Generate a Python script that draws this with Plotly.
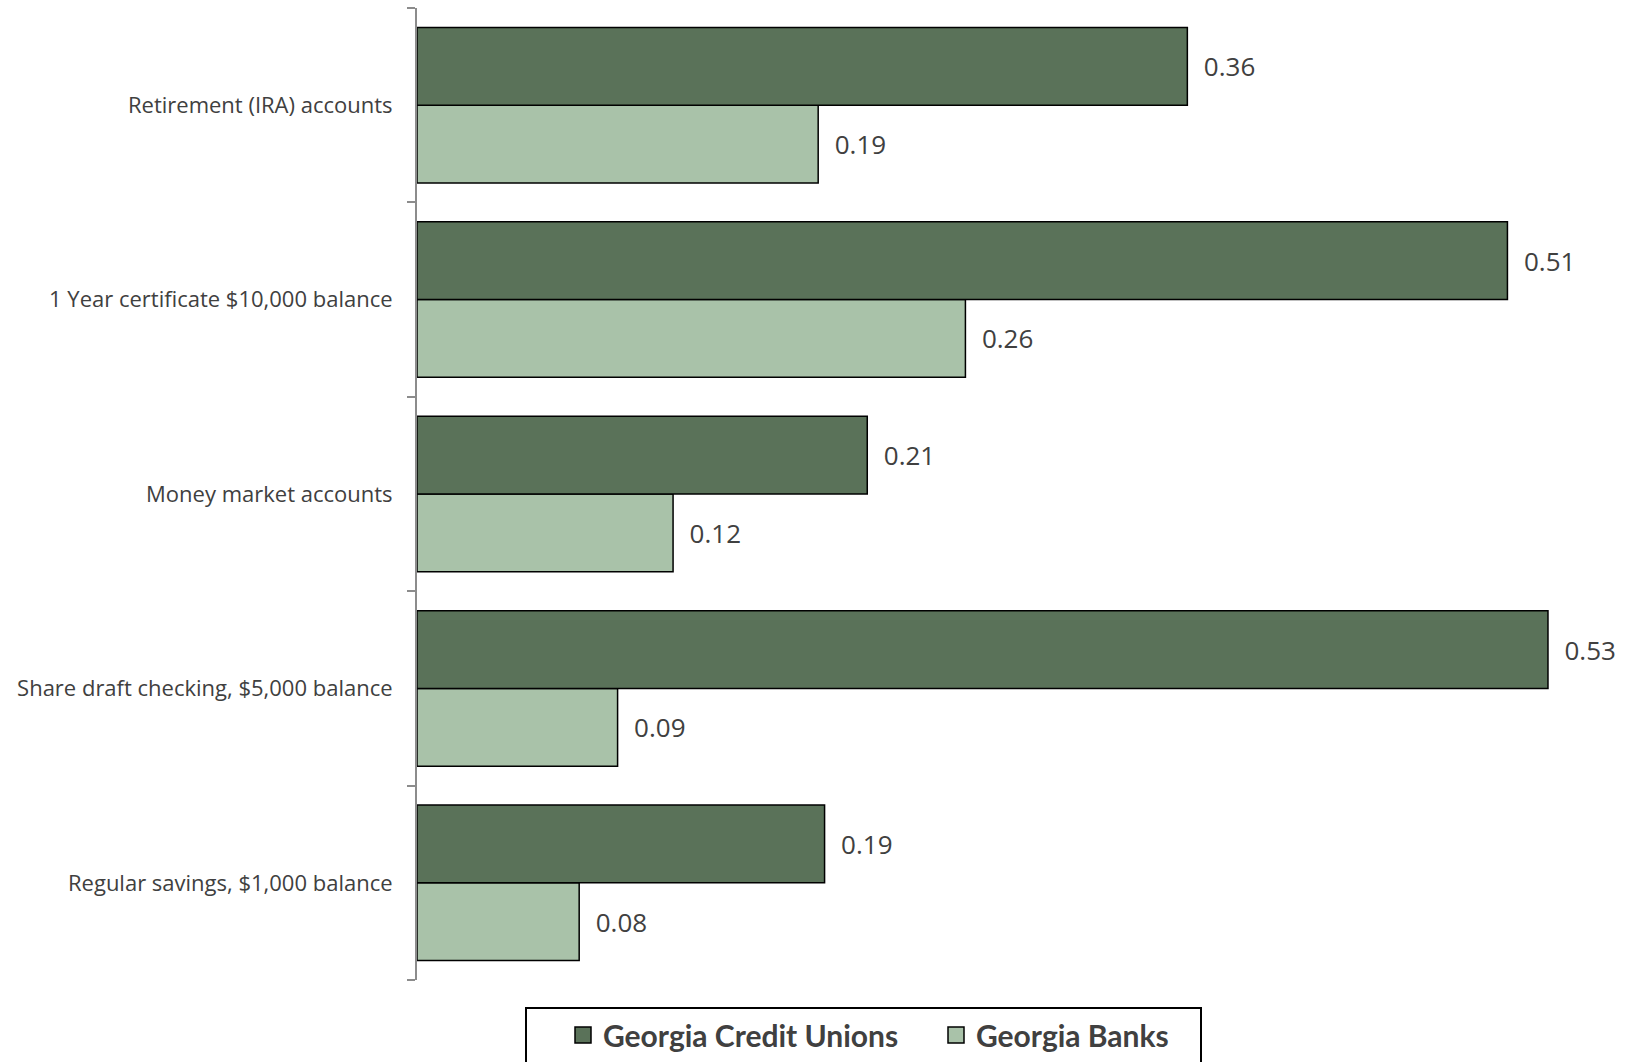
import plotly.graph_objects as go

# Categories listed bottom-to-top (Plotly category axis starts at bottom)
categories = [
    "Regular savings, $1,000 balance",
    "Share draft checking, $5,000 balance",
    "Money market accounts",
    "1 Year certificate $10,000 balance",
    "Retirement (IRA) accounts",
]
credit_unions = [0.191, 0.53, 0.211, 0.511, 0.361]
banks = [0.076, 0.094, 0.12, 0.257, 0.188]
series_names = ["Georgia Credit Unions", "Georgia Banks"]

dark = "#5A7259"
light = "#A9C2A9"
text_col = "#404040"
label_font = dict(family="Open Sans", size=26, color=text_col)

fig = go.Figure()
fig.add_trace(go.Bar(
    name=series_names[1], y=categories, x=banks, orientation="h",
    marker=dict(color=light, line=dict(color="#000000", width=1.5)),
    texttemplate="\u00a0\u00a0%{x:.2f}", textposition="outside", cliponaxis=False,
    textfont=label_font, showlegend=False,
))
fig.add_trace(go.Bar(
    name=series_names[0], y=categories, x=credit_unions, orientation="h",
    marker=dict(color=dark, line=dict(color="#000000", width=1.5)),
    texttemplate="\u00a0\u00a0%{x:.2f}", textposition="outside", cliponaxis=False,
    textfont=label_font, showlegend=False,
))
# legend-only entries (larger square swatches)
for name, col in zip(series_names, [dark, light]):
    fig.add_trace(go.Scatter(
        name=name, x=[None], y=[None], mode="markers",
        marker=dict(symbol="square", size=16, color=col,
                    line=dict(color="#000000", width=1.5)),
        showlegend=True, hoverinfo="skip",
    ))

fig.update_layout(
    width=1625, height=1062,
    margin=dict(l=417, r=13, t=8, b=82),
    paper_bgcolor="white", plot_bgcolor="white",
    barmode="group", bargap=0.2, bargroupgap=0,
    showlegend=True,
    legend=dict(
        orientation="h", traceorder="normal",
        entrywidth=328, entrywidthmode="pixels",
        xref="paper", x=(563 - 417) / 1195, xanchor="left",
        yref="container", y=1 - 1009 / 1062, yanchor="top",
        font=dict(family="Lato", size=30, color=text_col, weight="bold"),
        borderwidth=0, bgcolor="rgba(0,0,0,0)",
    ),
    xaxis=dict(range=[0, 0.56], showgrid=False, zeroline=False,
               showticklabels=False, showline=False, ticks=""),
    yaxis=dict(
        showgrid=False, zeroline=False, showline=True, linecolor="#8C8C8C",
        linewidth=2, ticks="outside", ticklen=8, tickwidth=2, tickcolor="#8C8C8C",
        tickson="boundaries", ticklabelstandoff=18,
        tickfont=dict(family="Open Sans", size=22, color=text_col),
    ),
    shapes=[dict(type="rect", xref="paper", yref="paper",
                 x0=(526 - 417) / 1195, x1=(1201 - 417) / 1195,
                 y0=-(1008 - 980) / 972, y1=-(1070 - 980) / 972,
                 line=dict(color="#000000", width=2), fillcolor="rgba(0,0,0,0)")],
)

fig.write_html("out.html")
